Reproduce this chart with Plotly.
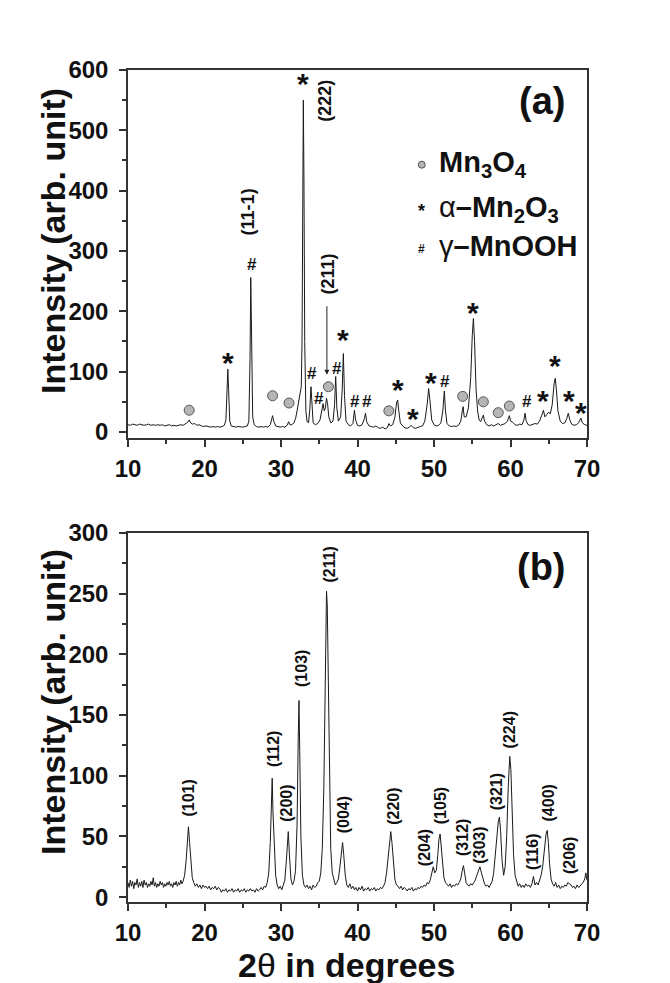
import plotly.graph_objects as go

# ---------------- data ----------------
# Panel (a): XRD profile (2theta, intensity)
a_profile = [
    (10.0, 12), (10.3, 11), (10.6, 13), (10.9, 12), (11.2, 11), (11.5, 13), (11.8, 12), (12.1, 11),
    (12.4, 12), (12.7, 13), (13.0, 11), (13.3, 12), (13.6, 11), (13.9, 12), (14.2, 11), (14.5, 12),
    (14.8, 10), (15.1, 11), (15.4, 12), (15.7, 10), (16.0, 11), (16.3, 10), (16.6, 11), (16.9, 12),
    (17.2, 11), (17.5, 13), (17.8, 16), (18.0, 20), (18.2, 15), (18.4, 13), (18.7, 14), (19.0, 11),
    (19.3, 12), (19.6, 10), (19.9, 9), (20.2, 10), (20.5, 9), (20.8, 8), (21.1, 9), (21.4, 8),
    (21.7, 9), (22.0, 8), (22.3, 9), (22.6, 11), (22.8, 20), (22.95, 70), (23.05, 104), (23.15, 70),
    (23.3, 18), (23.5, 10), (23.8, 9), (24.1, 8), (24.4, 9), (24.7, 8), (25.0, 8), (25.3, 9),
    (25.6, 10), (25.8, 18), (25.95, 120), (26.05, 256), (26.15, 150), (26.3, 25), (26.5, 12),
    (26.8, 9), (27.1, 8), (27.4, 9), (27.7, 8), (28.0, 9), (28.3, 8), (28.6, 12), (28.8, 22),
    (28.9, 27), (29.05, 18), (29.3, 10), (29.6, 9), (29.9, 8), (30.2, 9), (30.5, 8), (30.8, 11),
    (31.0, 17), (31.15, 12), (31.4, 12), (31.7, 15), (31.9, 22), (32.1, 35), (32.3, 50), (32.5, 65),
    (32.65, 75), (32.75, 150), (32.85, 400), (32.92, 550), (33.0, 420), (33.1, 150), (33.25, 35),
    (33.4, 18), (33.6, 15), (33.75, 35), (33.92, 75), (34.05, 35), (34.2, 15), (34.5, 12), (34.8, 14),
    (35.1, 20), (35.35, 40), (35.5, 47), (35.65, 35), (35.8, 40), (35.95, 56), (36.1, 45), (36.25, 25),
    (36.5, 15), (36.8, 18), (37.0, 45), (37.15, 92), (37.3, 40), (37.5, 18), (37.8, 25), (38.0, 70),
    (38.15, 130), (38.3, 60), (38.5, 18), (38.8, 12), (39.1, 10), (39.4, 14), (39.6, 36), (39.75, 20),
    (40.0, 11), (40.3, 10), (40.6, 12), (40.9, 22), (41.05, 31), (41.2, 17), (41.5, 10), (41.8, 9),
    (42.1, 8), (42.4, 10), (42.7, 7), (43.0, 6), (43.3, 8), (43.6, 5), (43.9, 7), (44.1, 14),
    (44.3, 10), (44.6, 12), (44.9, 25), (45.1, 48), (45.25, 53), (45.4, 35), (45.6, 15), (45.9, 10),
    (46.2, 7), (46.5, 6), (46.8, 8), (47.0, 11), (47.3, 7), (47.6, 6), (47.9, 8), (48.2, 9),
    (48.5, 10), (48.8, 18), (49.1, 45), (49.3, 72), (49.45, 55), (49.7, 20), (50.0, 12), (50.3, 10),
    (50.6, 11), (50.9, 15), (51.15, 35), (51.35, 68), (51.5, 35), (51.7, 14), (52.0, 10), (52.3, 9),
    (52.6, 10), (52.9, 9), (53.2, 11), (53.5, 18), (53.7, 35), (53.8, 42), (53.95, 25), (54.2, 25),
    (54.5, 40), (54.8, 90), (55.0, 160), (55.15, 188), (55.3, 150), (55.5, 70), (55.7, 35), (55.9, 20),
    (56.1, 17), (56.3, 22), (56.45, 28), (56.6, 18), (56.9, 12), (57.2, 10), (57.5, 12), (57.8, 10),
    (58.1, 12), (58.4, 14), (58.7, 11), (59.0, 12), (59.3, 14), (59.6, 18), (59.85, 27), (60.0, 18),
    (60.3, 16), (60.6, 12), (60.9, 11), (61.2, 13), (61.5, 12), (61.75, 20), (61.9, 31), (62.05, 18),
    (62.3, 12), (62.6, 11), (62.9, 12), (63.2, 14), (63.5, 13), (63.8, 18), (64.1, 28), (64.3, 36),
    (64.5, 25), (64.7, 28), (65.0, 33), (65.2, 30), (65.45, 45), (65.7, 80), (65.85, 89), (66.0, 70),
    (66.2, 35), (66.5, 18), (66.8, 14), (67.1, 15), (67.35, 22), (67.55, 31), (67.75, 20), (68.0, 13),
    (68.3, 11), (68.6, 12), (68.9, 15), (69.2, 23), (69.4, 15), (69.7, 12), (70.0, 11),
]

# Panel (b): XRD profile (2theta, intensity)
b_profile = [
    (10.0, 12), (10.15, 8), (10.3, 14), (10.45, 9), (10.6, 13), (10.75, 7), (10.9, 12), (11.05, 10),
    (11.2, 15), (11.35, 8), (11.5, 12), (11.65, 9), (11.8, 13), (11.95, 8), (12.1, 14), (12.25, 10),
    (12.4, 12), (12.55, 8), (12.7, 11), (12.85, 9), (13.0, 13), (13.15, 10), (13.3, 16), (13.45, 9),
    (13.6, 12), (13.75, 8), (13.9, 11), (14.05, 9), (14.2, 13), (14.35, 10), (14.5, 12), (14.65, 8),
    (14.8, 11), (14.95, 9), (15.1, 12), (15.25, 10), (15.4, 13), (15.55, 9), (15.7, 11), (15.85, 8),
    (16.0, 12), (16.15, 10), (16.3, 13), (16.45, 9), (16.6, 12), (16.75, 10), (16.9, 14), (17.05, 11),
    (17.2, 13), (17.4, 18), (17.6, 30), (17.75, 48), (17.9, 58), (18.05, 45), (18.2, 28), (18.4, 16),
    (18.6, 12), (18.8, 9), (19.0, 11), (19.2, 8), (19.4, 10), (19.6, 7), (19.8, 10), (20.0, 8),
    (20.2, 9), (20.4, 7), (20.6, 9), (20.8, 6), (21.0, 8), (21.2, 7), (21.4, 9), (21.6, 6),
    (21.8, 8), (22.0, 7), (22.2, 4), (22.4, 6), (22.6, 5), (22.8, 7), (23.0, 4), (23.2, 6),
    (23.4, 5), (23.6, 7), (23.8, 4), (24.0, 6), (24.2, 5), (24.4, 7), (24.6, 4), (24.8, 6),
    (25.0, 5), (25.2, 7), (25.4, 4), (25.6, 6), (25.8, 5), (26.0, 7), (26.2, 5), (26.4, 6),
    (26.6, 4), (26.8, 7), (27.0, 5), (27.2, 6), (27.4, 8), (27.6, 6), (27.8, 9), (28.0, 8),
    (28.2, 12), (28.4, 20), (28.6, 45), (28.75, 85), (28.85, 98), (28.95, 70), (29.1, 40), (29.3, 18),
    (29.5, 10), (29.7, 7), (29.9, 9), (30.1, 6), (30.3, 10), (30.5, 14), (30.7, 30), (30.85, 48),
    (30.95, 54), (31.1, 35), (31.3, 15), (31.5, 10), (31.7, 13), (31.9, 22), (32.1, 60), (32.25, 130),
    (32.35, 162), (32.45, 120), (32.6, 50), (32.8, 18), (33.0, 10), (33.2, 8), (33.4, 10), (33.6, 7),
    (33.8, 9), (34.0, 6), (34.2, 10), (34.4, 8), (34.6, 9), (34.8, 12), (35.0, 13), (35.2, 20),
    (35.4, 40), (35.6, 90), (35.8, 180), (35.95, 252), (36.05, 240), (36.2, 160), (36.35, 80), (36.5, 40),
    (36.7, 20), (36.9, 15), (37.1, 10), (37.3, 12), (37.5, 15), (37.7, 25), (37.9, 40), (38.05, 45),
    (38.2, 35), (38.4, 18), (38.6, 10), (38.8, 8), (39.0, 11), (39.2, 7), (39.4, 9), (39.6, 6),
    (39.8, 8), (40.0, 5), (40.2, 8), (40.4, 6), (40.6, 9), (40.8, 5), (41.0, 7), (41.2, 6),
    (41.4, 8), (41.6, 5), (41.8, 7), (42.0, 6), (42.2, 8), (42.4, 5), (42.6, 7), (42.8, 6),
    (43.0, 8), (43.2, 7), (43.4, 9), (43.6, 12), (43.8, 20), (44.0, 35), (44.2, 50), (44.35, 54),
    (44.5, 45), (44.7, 25), (44.9, 14), (45.1, 10), (45.3, 9), (45.5, 7), (45.7, 9), (45.9, 6),
    (46.1, 8), (46.3, 7), (46.5, 5), (46.7, 7), (46.9, 6), (47.1, 8), (47.3, 5), (47.5, 7),
    (47.7, 6), (47.9, 8), (48.1, 7), (48.3, 9), (48.5, 8), (48.7, 10), (48.9, 9), (49.1, 12),
    (49.3, 11), (49.5, 14), (49.7, 20), (49.9, 25), (50.1, 20), (50.3, 22), (50.5, 35), (50.65, 48),
    (50.8, 52), (50.95, 42), (51.1, 28), (51.3, 16), (51.5, 12), (51.7, 10), (51.9, 9), (52.1, 11),
    (52.3, 8), (52.5, 10), (52.7, 9), (52.9, 11), (53.1, 10), (53.3, 12), (53.5, 15), (53.7, 22),
    (53.85, 26), (54.0, 20), (54.2, 12), (54.4, 10), (54.6, 9), (54.8, 11), (55.0, 10), (55.2, 12),
    (55.4, 14), (55.6, 18), (55.8, 22), (56.0, 25), (56.2, 20), (56.4, 14), (56.6, 11), (56.8, 9),
    (57.0, 10), (57.2, 8), (57.4, 11), (57.6, 13), (57.8, 20), (58.0, 35), (58.2, 50), (58.4, 62),
    (58.55, 66), (58.7, 55), (58.9, 30), (59.1, 18), (59.3, 25), (59.5, 50), (59.7, 90), (59.9, 116),
    (60.05, 105), (60.2, 70), (60.4, 35), (60.6, 18), (60.8, 12), (61.0, 9), (61.2, 11), (61.4, 8),
    (61.6, 10), (61.8, 8), (62.0, 11), (62.2, 9), (62.4, 10), (62.6, 8), (62.8, 11), (63.0, 17),
    (63.2, 10), (63.4, 12), (63.6, 10), (63.8, 14), (64.0, 18), (64.2, 25), (64.45, 40), (64.65, 52),
    (64.8, 55), (64.95, 45), (65.1, 28), (65.3, 15), (65.5, 11), (65.7, 9), (65.9, 12), (66.1, 8),
    (66.3, 10), (66.5, 7), (66.7, 9), (66.9, 8), (67.1, 10), (67.3, 9), (67.5, 12), (67.7, 11),
    (67.9, 10), (68.1, 8), (68.3, 9), (68.5, 7), (68.7, 10), (68.9, 8), (69.1, 9), (69.3, 11),
    (69.5, 12), (69.7, 15), (69.85, 20), (70.0, 14),
]

# Phase markers in panel (a): (2theta, height of marker)
mn3o4_marks = [(18.0, 36), (28.9, 60), (31.05, 48), (36.2, 75), (44.1, 35),
               (53.75, 59), (56.45, 50), (58.4, 32), (59.85, 43)]
mn2o3_marks = [(23.07, 119), (32.83, 581), (38.1, 156), (45.25, 73), (47.3, 25),
               (49.55, 86), (55.05, 202), (64.3, 56), (65.86, 114), (67.6, 56), (69.2, 36)]
mnooh_marks = [(26.17, 277), (34.1, 97), (35.0, 56), (37.36, 106), (39.67, 50),
               (41.3, 50), (51.44, 83), (62.1, 50)]

# Miller-index labels
a_hkl = [("(222)", 35.75, 549), ("(11-1)", 25.69, 364), ("(211)", 36.1, 262)]
b_hkl = [("(101)", 17.9, 81.6), ("(112)", 28.95, 122), ("(200)", 30.8, 77),
         ("(103)", 32.75, 188), ("(211)", 36.4, 274), ("(004)", 38.2, 68),
         ("(220)", 44.6, 75), ("(204)", 48.8, 41), ("(105)", 50.8, 75),
         ("(312)", 53.7, 49), ("(303)", 56.0, 43), ("(321)", 58.2, 87),
         ("(224)", 59.9, 138), ("(116)", 62.9, 37), ("(400)", 64.9, 78),
         ("(206)", 67.8, 34)]

x_ticks = [10, 20, 30, 40, 50, 60, 70]
a_y_ticks = [0, 100, 200, 300, 400, 500, 600]
b_y_ticks = [0, 50, 100, 150, 200, 250, 300]

# ---------------- figure ----------------
FONT = "Liberation Sans, Arial, sans-serif"
LINE = "#1a1a1a"
AX = "#333333"

fig = go.Figure()
fig.add_trace(go.Scatter(x=[p[0] for p in a_profile], y=[p[1] for p in a_profile],
                         mode="lines", line=dict(color=LINE, width=1),
                         xaxis="x", yaxis="y", showlegend=False))
fig.add_trace(go.Scatter(x=[p[0] for p in b_profile], y=[p[1] for p in b_profile],
                         mode="lines", line=dict(color=LINE, width=1),
                         xaxis="x2", yaxis="y2", showlegend=False))
# grey circles (Mn3O4)
fig.add_trace(go.Scatter(x=[m[0] for m in mn3o4_marks], y=[m[1] for m in mn3o4_marks],
                         mode="markers", xaxis="x", yaxis="y", showlegend=False,
                         marker=dict(symbol="circle", size=10, color="#b5b5b5",
                                     line=dict(color="#555555", width=1))))
# legend circle
fig.add_trace(go.Scatter(x=[48.4], y=[443], mode="markers", xaxis="x", yaxis="y",
                         showlegend=False,
                         marker=dict(symbol="circle", size=7, color="#b5b5b5",
                                     line=dict(color="#555555", width=1))))

ann = []
for x, y in mn2o3_marks:
    ann.append(dict(x=x, y=y, xref="x", yref="y", text="*", showarrow=False,
                    yshift=-2, font=dict(family=FONT, size=30, color="#111", weight="bold")))
for x, y in mnooh_marks:
    ann.append(dict(x=x, y=y, xref="x", yref="y", text="#", showarrow=False,
                    font=dict(family=FONT, size=17, color="#111", weight="bold")))
for t, x, y in a_hkl:
    ann.append(dict(x=x, y=y, xref="x", yref="y", text=t, showarrow=False, textangle=-90,
                    xanchor="center", yanchor="middle",
                    font=dict(family=FONT, size=18, color="#111", weight="bold")))
# arrow for (211) in panel a
ann.append(dict(x=36.0, y=95, xref="x", yref="y", ax=36.0, ay=211, axref="x", ayref="y",
                text="", showarrow=True, arrowhead=2, arrowsize=1, arrowwidth=1,
                arrowcolor="#222"))
for t, x, y in b_hkl:
    ann.append(dict(x=x, y=y, xref="x2", yref="y2", text=t, showarrow=False, textangle=-90,
                    xanchor="center", yanchor="middle",
                    font=dict(family=FONT, size=16, color="#111", weight="bold")))

# panel labels
ann.append(dict(x=64.1, y=549, xref="x", yref="y", text="(a)", showarrow=False,
                font=dict(family=FONT, size=38, color="#111", weight="bold")))
ann.append(dict(x=64.1, y=272, xref="x2", yref="y2", text="(b)", showarrow=False,
                font=dict(family=FONT, size=38, color="#111", weight="bold")))

# legend texts
ann.append(dict(x=50.4, y=444, xref="x", yref="y", xanchor="left", yanchor="middle",
                text="Mn<sub>3</sub>O<sub>4</sub>",
                showarrow=False, font=dict(family=FONT, size=29, color="#111", weight="bold")))
ann.append(dict(x=48.4, y=370, xref="x", yref="y", text="*", showarrow=False, yshift=-2,
                font=dict(family=FONT, size=18, color="#111", weight="bold")))
ann.append(dict(x=50.4, y=370, xref="x", yref="y", xanchor="left", yanchor="middle",
                text="<span style='font-weight:normal'>α</span>–Mn<sub>2</sub>O<sub>3</sub>",
                showarrow=False, font=dict(family=FONT, size=29, color="#111", weight="bold")))
ann.append(dict(x=48.4, y=303, xref="x", yref="y", text="#", showarrow=False,
                font=dict(family=FONT, size=12, color="#111", weight="bold")))
ann.append(dict(x=50.4, y=308, xref="x", yref="y", xanchor="left", yanchor="middle",
                text="<span style='font-weight:normal'>γ</span>–MnOOH",
                showarrow=False, font=dict(family=FONT, size=29, color="#111", weight="bold")))

# axis titles
for yc in (0.7945, 0.2404):
    ann.append(dict(x=-0.1634, y=yc, xref="paper", yref="paper", text="Intensity (arb. unit)",
                    textangle=-90, showarrow=False, xanchor="center", yanchor="middle",
                    font=dict(family=FONT, size=34, color="#111", weight="bold")))
ann.append(dict(x=0.475, y=-0.0757, xref="paper", yref="paper",
                text="2<span style='font-weight:normal'>θ</span> in degrees",
                showarrow=False, xanchor="center", yanchor="middle",
                font=dict(family=FONT, size=34, color="#111", weight="bold")))

tickfont = dict(family=FONT, size=24, color="#111", weight="bold")
xa = dict(range=[10, 70], tickvals=x_ticks, ticks="outside", ticklen=7, tickwidth=1.5,
          tickcolor=AX, showline=True, linecolor=AX, linewidth=1.5, mirror=True,
          showgrid=False, zeroline=False, tickfont=tickfont, ticklabelstandoff=1,
          minor=dict(dtick=5, tick0=10, ticks="outside", ticklen=4, tickwidth=1.5, tickcolor=AX))
ya_common = dict(ticks="outside", ticklen=7, tickwidth=1.5, tickcolor=AX, showline=True,
                 linecolor=AX, linewidth=1.5, mirror=True, showgrid=False, zeroline=False,
                 tickfont=tickfont, ticklabelstandoff=6)

fig.update_layout(
    width=670, height=983,
    margin=dict(l=128, r=83, t=70, b=81),
    paper_bgcolor="white", plot_bgcolor="white",
    showlegend=False,
    xaxis=dict(domain=[0, 1], anchor="y", **xa),
    yaxis=dict(domain=[0.5577, 1], anchor="x", range=[-10, 600], tickvals=a_y_ticks,
               minor=dict(dtick=50, tick0=0, ticks="outside", ticklen=4, tickwidth=1.5, tickcolor=AX),
               **ya_common),
    xaxis2=dict(domain=[0, 1], anchor="y2", **xa),
    yaxis2=dict(domain=[0, 0.4435], anchor="x2", range=[-4, 300], tickvals=b_y_ticks,
                minor=dict(dtick=25, tick0=0, ticks="outside", ticklen=4, tickwidth=1.5, tickcolor=AX),
                **ya_common),
    annotations=ann,
)

fig.write_html("out.html",
               config={"displayModeBar": False},
               post_script="document.body.style.margin='0';document.body.style.overflow='hidden';")
